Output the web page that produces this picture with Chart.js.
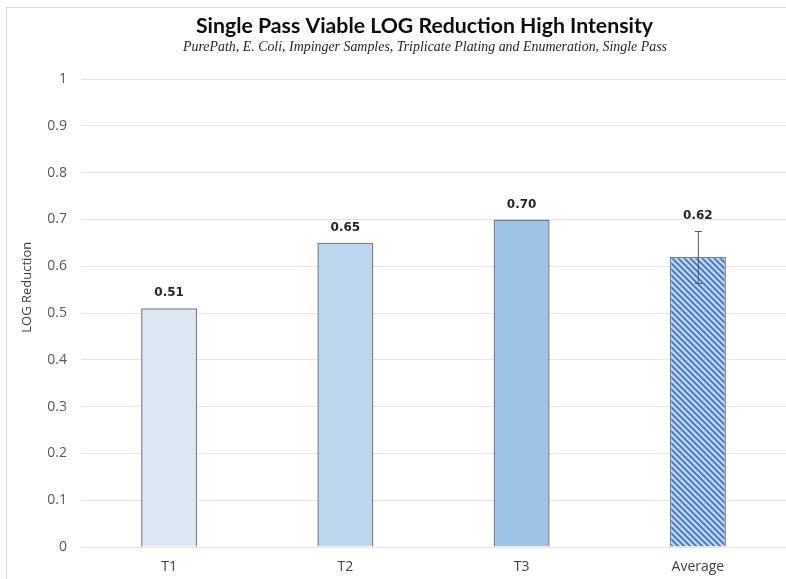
<!DOCTYPE html>
<html>
<head>
<meta charset="utf-8">
<script src="https://cdn.jsdelivr.net/npm/chart.js@4/dist/chart.umd.min.js"></script>
<style>
  html, body { margin: 0; padding: 0; background: #ffffff; }
  #wrap { width: 786px; height: 579px; position: relative; }
</style>
</head>
<body>
<div id="wrap"><canvas id="c" width="786" height="579"></canvas></div>
<script>
// Chart data
const categories = ['T1', 'T2', 'T3', 'Average'];
const logReduction = [0.51, 0.65, 0.70, 0.62];
const errorAmount = [0, 0, 0, 0.055];
const yTicks = [0, 0.1, 0.2, 0.3, 0.4, 0.5, 0.6, 0.7, 0.8, 0.9, 1];

const titleText = 'Single Pass Viable LOG Reduction High Intensity';
const subtitleText = 'PurePath, E. Coli, Impinger Samples, Triplicate Plating and Enumeration, Single Pass';
const yTitleText = 'LOG Reduction';

// Diagonal hatch fill for the average bar
function makeHatch() {
  const s = 6;
  const p = document.createElement('canvas');
  p.width = s; p.height = s;
  const g = p.getContext('2d');
  g.fillStyle = '#bdd7ee';
  g.fillRect(0, 0, s, s);
  g.strokeStyle = '#4472c4';
  g.lineWidth = 1.8;
  g.beginPath();
  g.moveTo(-1, -1); g.lineTo(s + 1, s + 1);
  g.moveTo(-1, s - 1); g.lineTo(1, s + 1);
  g.moveTo(s - 1, -1); g.lineTo(s + 1, 1);
  g.stroke();
  return g.createPattern(p, 'repeat');
}

const ctx = document.getElementById('c').getContext('2d');
const barFills = ['#dde8f5', '#bdd7ee', '#9dc3e6', makeHatch()];

// Draw text squeezed or stretched horizontally to a given width
function fitText(c, text, x, y, width) {
  const w = c.measureText(text).width;
  c.save();
  c.translate(x, y);
  c.scale(width / w, 1);
  c.fillText(text, 0, 0);
  c.restore();
}

// Frame, headings, axis title, error bars and value labels
const decorations = {
  id: 'decorations',
  beforeDraw(chart) {
    const c = chart.ctx;
    c.save();
    c.fillStyle = '#ffffff';
    c.fillRect(0, 0, chart.width, chart.height);
    c.strokeStyle = '#d9d9d9';
    c.lineWidth = 1;
    c.strokeRect(6.5, 7.5, chart.width + 10, chart.height + 10);
    c.restore();
  },
  afterDraw(chart) {
    const c = chart.ctx;
    const ys = chart.scales.y;
    c.save();
    c.textAlign = 'center';
    c.textBaseline = 'middle';

    // title
    c.fillStyle = '#0d0d0d';
    c.font = 'bold 21px Lato';
    fitText(c, titleText, 424.5, 26, 457);

    // subtitle
    c.fillStyle = '#262626';
    c.font = 'italic 14px "Liberation Serif"';
    fitText(c, subtitleText, 425, 47, 484);

    // y axis title, set beside the 0.5–0.6 band
    c.save();
    c.translate(27, ys.getPixelForValue(0.555));
    c.rotate(-Math.PI / 2);
    c.fillStyle = '#404040';
    c.font = '13px "Open Sans"';
    c.fillText(yTitleText, 0, 0);
    c.restore();

    const meta = chart.getDatasetMeta(0);
    meta.data.forEach((bar, i) => {
      const v = logReduction[i];
      const e = errorAmount[i];
      let topY = ys.getPixelForValue(v);
      if (e > 0) {
        const yHi = ys.getPixelForValue(v + e);
        const yLo = ys.getPixelForValue(v - e);
        c.strokeStyle = '#595959';
        c.lineWidth = 1;
        c.beginPath();
        c.moveTo(bar.x + 0.5, yHi);
        c.lineTo(bar.x + 0.5, yLo);
        c.moveTo(bar.x - 3, Math.round(yHi) + 0.5);
        c.lineTo(bar.x + 4, Math.round(yHi) + 0.5);
        c.moveTo(bar.x - 3, Math.round(yLo) + 0.5);
        c.lineTo(bar.x + 4, Math.round(yLo) + 0.5);
        c.stroke();
        topY = yHi;
      }
      c.fillStyle = '#262626';
      c.font = 'bold 12px "DejaVu Sans"';
      c.fillText(v.toFixed(2), bar.x, topY - 15);
    });
    c.restore();
  }
};

new Chart(ctx, {
  type: 'bar',
  data: {
    labels: categories,
    datasets: [{
      data: logReduction,
      backgroundColor: barFills,
      borderColor: '#7f7f7f',
      borderWidth: 1.5,
      categoryPercentage: 1,
      barPercentage: 0.318
    }]
  },
  options: {
    responsive: false,
    animation: false,
    devicePixelRatio: 1,
    layout: { padding: { top: 79, right: 0, bottom: 0, left: 0 } },
    plugins: {
      legend: { display: false },
      tooltip: { enabled: false },
      title: { display: false }
    },
    scales: {
      x: {
        grid: { display: false, drawTicks: false },
        border: { display: true, color: '#e3e3e3', width: 1 },
        ticks: {
          color: '#404040',
          font: { family: '"Open Sans"', size: 14 },
          padding: 12
        },
        afterFit(scale) { scale.height = 32; }
      },
      y: {
        min: 0,
        max: 1,
        afterBuildTicks(scale) { scale.ticks = yTicks.map(v => ({ value: v })); },
        grid: { color: '#e6e6e6', lineWidth: 1, drawTicks: false },
        border: { display: false },
        ticks: {
          color: '#595959',
          font: { family: '"Open Sans"', size: 14 },
          padding: 14,
          callback: v => String(v)
        },
        afterFit(scale) { scale.width = 81; }
      }
    }
  },
  plugins: [decorations]
});
</script>
</body>
</html>
